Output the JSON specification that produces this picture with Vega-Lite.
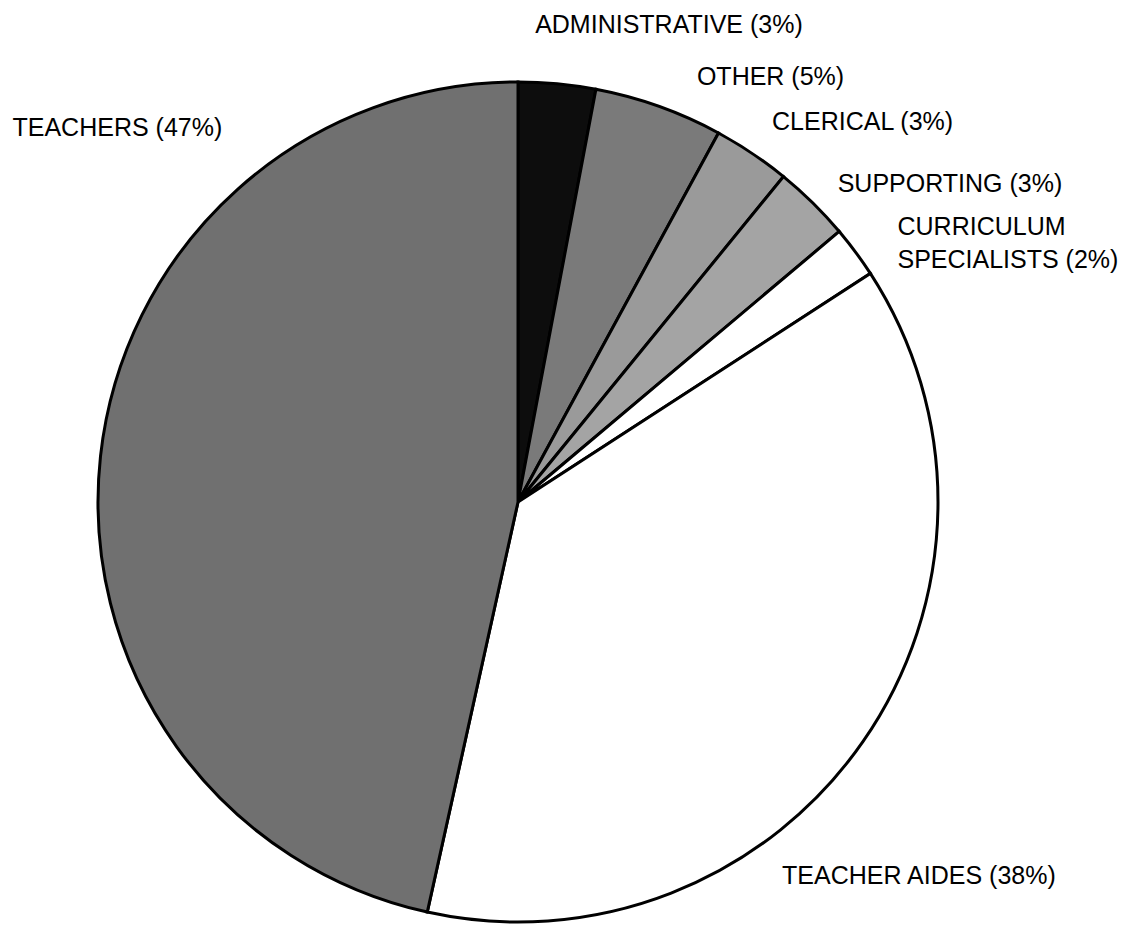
{
  "$schema": "https://vega.github.io/schema/vega-lite/v6.json",
  "width": 1036,
  "height": 860,
  "autosize": {"type": "none"},
  "padding": {"left": 0, "top": 72, "right": 91, "bottom": 0},
  "background": "white",
  "config": {"view": {"stroke": null}},
  "data": {
    "values": [
      {"category": "ADMINISTRATIVE", "value": 3, "order": 1, "label": "ADMINISTRATIVE (3%)"},
      {"category": "OTHER", "value": 5, "order": 2, "label": "OTHER (5%)"},
      {"category": "CLERICAL", "value": 3, "order": 3, "label": "CLERICAL (3%)"},
      {"category": "SUPPORTING", "value": 3, "order": 4, "label": "SUPPORTING (3%)"},
      {"category": "CURRICULUM SPECIALISTS", "value": 2, "order": 5, "label": "CURRICULUM\nSPECIALISTS (2%)"},
      {"category": "TEACHER AIDES", "value": 38, "order": 6, "label": "TEACHER AIDES (38%)"},
      {"category": "TEACHERS", "value": 47, "order": 7, "label": "TEACHERS (47%)"}
    ]
  },
  "encoding": {
    "theta": {"field": "value", "type": "quantitative", "stack": true},
    "order": {"field": "order", "type": "quantitative"}
  },
  "layer": [
    {
      "mark": {"type": "arc", "outerRadius": 420, "stroke": "black", "strokeWidth": 3, "strokeJoin": "miter"},
      "encoding": {
        "color": {
          "field": "category",
          "type": "nominal",
          "scale": {
            "domain": ["ADMINISTRATIVE", "OTHER", "CLERICAL", "SUPPORTING", "CURRICULUM SPECIALISTS", "TEACHER AIDES", "TEACHERS"],
            "range": ["#0d0d0d", "#7a7a7a", "#9a9a9a", "#a4a4a4", "#ffffff", "#ffffff", "#707070"]
          },
          "legend": null
        }
      }
    },
    {
      "mark": {"type": "text", "radius": 420, "dx": -22, "dy": -51, "align": "left", "baseline": "alphabetic", "font": "Liberation Sans", "fontSize": 25, "color": "black"},
      "encoding": {"text": {"condition": {"test": "datum.category === 'ADMINISTRATIVE'", "field": "label"}, "value": ""}}
    },
    {
      "mark": {"type": "text", "radius": 420, "dx": 38, "dy": -21, "align": "left", "baseline": "alphabetic", "font": "Liberation Sans", "fontSize": 25, "color": "black"},
      "encoding": {"text": {"condition": {"test": "datum.category === 'OTHER'", "field": "label"}, "value": ""}}
    },
    {
      "mark": {"type": "text", "radius": 420, "dx": 20, "dy": -23, "align": "left", "baseline": "alphabetic", "font": "Liberation Sans", "fontSize": 25, "color": "black"},
      "encoding": {"text": {"condition": {"test": "datum.category === 'CLERICAL'", "field": "label"}, "value": ""}}
    },
    {
      "mark": {"type": "text", "radius": 420, "dx": 25, "dy": -11, "align": "left", "baseline": "alphabetic", "font": "Liberation Sans", "fontSize": 25, "color": "black"},
      "encoding": {"text": {"condition": {"test": "datum.category === 'SUPPORTING'", "field": "label"}, "value": ""}}
    },
    {
      "mark": {"type": "text", "radius": 420, "dx": 42, "dy": -17, "align": "left", "baseline": "alphabetic", "font": "Liberation Sans", "fontSize": 25, "lineBreak": "\n", "lineHeight": 33, "color": "black"},
      "encoding": {"text": {"condition": {"test": "datum.category === 'CURRICULUM SPECIALISTS'", "field": "label"}, "value": ""}}
    },
    {
      "mark": {"type": "text", "radius": 420, "dx": -81, "dy": 143, "align": "left", "baseline": "alphabetic", "font": "Liberation Sans", "fontSize": 25, "color": "black"},
      "encoding": {"text": {"condition": {"test": "datum.category === 'TEACHER AIDES'", "field": "label"}, "value": ""}}
    },
    {
      "mark": {"type": "text", "radius": 420, "dx": -88, "dy": -320, "align": "left", "baseline": "alphabetic", "font": "Liberation Sans", "fontSize": 25, "color": "black"},
      "encoding": {"text": {"condition": {"test": "datum.category === 'TEACHERS'", "field": "label"}, "value": ""}}
    }
  ]
}
